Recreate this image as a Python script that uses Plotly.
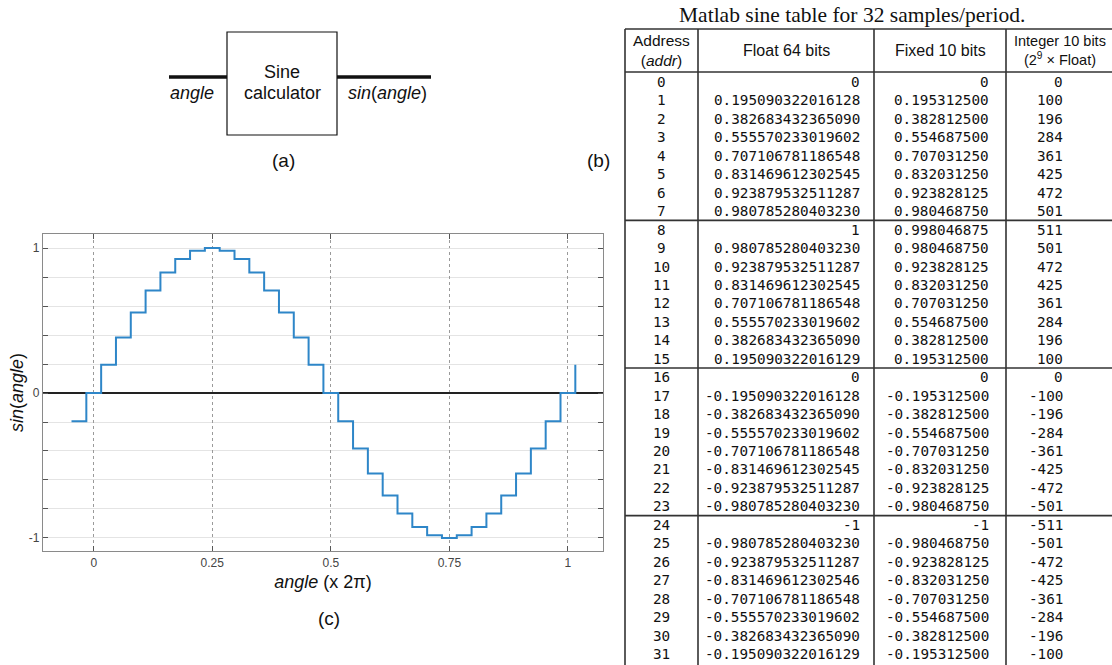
import plotly.graph_objects as go

W, H = 1112, 665

# ---------------- data ----------------
addresses = list(range(32))
float64_txt = [
    "0", "0.195090322016128", "0.382683432365090", "0.555570233019602",
    "0.707106781186548", "0.831469612302545", "0.923879532511287", "0.980785280403230",
    "1", "0.980785280403230", "0.923879532511287", "0.831469612302545",
    "0.707106781186548", "0.555570233019602", "0.382683432365090", "0.195090322016129",
    "0", "-0.195090322016128", "-0.382683432365090", "-0.555570233019602",
    "-0.707106781186548", "-0.831469612302545", "-0.923879532511287", "-0.980785280403230",
    "-1", "-0.980785280403230", "-0.923879532511287", "-0.831469612302546",
    "-0.707106781186548", "-0.555570233019602", "-0.382683432365090", "-0.195090322016129",
]
fixed10_txt = [
    "0", "0.195312500", "0.382812500", "0.554687500", "0.707031250", "0.832031250",
    "0.923828125", "0.980468750",
    "0.998046875", "0.980468750", "0.923828125", "0.832031250", "0.707031250",
    "0.554687500", "0.382812500", "0.195312500",
    "0", "-0.195312500", "-0.382812500", "-0.554687500", "-0.707031250", "-0.832031250",
    "-0.923828125", "-0.980468750",
    "-1", "-0.980468750", "-0.923828125", "-0.832031250", "-0.707031250",
    "-0.554687500", "-0.382812500", "-0.195312500",
]
int10 = [0, 100, 196, 284, 361, 425, 472, 501,
         511, 501, 472, 425, 361, 284, 196, 100,
         0, -100, -196, -284, -361, -425, -472, -501,
         -511, -501, -472, -425, -361, -284, -196, -100]

headers = ["Address<br>(<i>addr</i>)", "Float 64 bits", "Fixed 10 bits",
           "Integer 10 bits<br>(2<sup>9</sup> × Float)"]
title_b = "Matlab sine table for 32 samples/period."

x_ticks = [0, 0.25, 0.5, 0.75, 1]
x_ticktext = ["0", "0.25", "0.5", "0.75", "1"]
y_ticks = [-1, 0, 1]
y_ticktext = ["-1", "0", "1"]
y_minor = [-0.8, -0.6, -0.4, -0.2, 0.2, 0.4, 0.6, 0.8]

# ---------------- helpers (pixel -> paper) ----------------
def px(x):
    return x / W

def py(y):
    return 1 - y / H

fig = go.Figure()
shapes = []
ann = []

SANS = "Liberation Sans, Arial, sans-serif"
MONO = "DejaVu Sans Mono, monospace"

# ---------------- (c) stair plot ----------------
seq = [-1] + addresses + [32, 33]
xs = [(i - 0.5) / 32 for i in seq]
ys = [float(float64_txt[i % 32]) for i in seq]
fig.add_trace(go.Scatter(x=xs, y=ys, mode="lines", line=dict(color="#2e86c8", width=2, shape="hv"),
                         showlegend=False, hoverinfo="skip", xaxis="x", yaxis="y"))

ax_l, ax_r, ax_t, ax_b = 43, 603, 234, 551
fig.update_layout(
    xaxis=dict(domain=[px(ax_l), px(ax_r)], range=[-0.107, 1.074], tickvals=x_ticks, ticktext=x_ticktext,
               showgrid=True, gridcolor="#9a9a9a", griddash="dot", gridwidth=1,
               zeroline=False, showline=True, linecolor="#8a8a8a", linewidth=1.2, mirror="ticks",
               ticks="inside", ticklen=5, tickcolor="#555", tickfont=dict(family=SANS, size=12, color="#444"),
               title=dict(text="<i>angle</i> (x 2π)", font=dict(family=SANS, size=18, color="#111"), standoff=6),
               anchor="y", fixedrange=True),
    yaxis=dict(domain=[py(ax_b), py(ax_t)], range=[-1.09, 1.097], tickvals=y_ticks, ticktext=y_ticktext,
               showgrid=True, gridcolor="#e4e4e4", gridwidth=1,
               minor=dict(tickvals=y_minor, showgrid=True, gridcolor="#e4e4e4", gridwidth=1,
                          ticks="inside", ticklen=5, tickcolor="#555"),
               zeroline=True, zerolinecolor="#222", zerolinewidth=1.5,
               showline=True, linecolor="#8a8a8a", linewidth=1.2, mirror="ticks",
               ticks="inside", ticklen=5, tickcolor="#555", tickfont=dict(family=SANS, size=12, color="#444"),
               anchor="x", fixedrange=True),
)

# ---------------- (a) block diagram ----------------
shapes.append(dict(type="rect", xref="paper", yref="paper", x0=px(227), x1=px(337), y0=py(135), y1=py(32),
                   line=dict(color="#111", width=1.2)))
shapes.append(dict(type="line", xref="paper", yref="paper", x0=px(169), x1=px(227), y0=py(77), y1=py(77),
                   line=dict(color="#111", width=3.5)))
shapes.append(dict(type="line", xref="paper", yref="paper", x0=px(337), x1=px(431), y0=py(77), y1=py(77),
                   line=dict(color="#111", width=3.5)))

def text(x, y, s, size=16, family=SANS, xanchor="center", color="#111", angle=0):
    ann.append(dict(x=px(x), y=py(y), xref="paper", yref="paper", text=s, showarrow=False, textangle=angle,
                    xanchor=xanchor, yanchor="middle", font=dict(family=family, size=size, color=color)))

text(282, 72, "Sine", 18)
text(282, 93, "calculator", 18)
text(192, 93, "<i>angle</i>", 18)
text(387, 93, "<i>sin</i>(<i>angle</i>)", 18)
text(283, 160, "(a)", 19)
text(598, 160, "(b)", 19)
text(329, 618, "(c)", 19)
text(17, 393, "<i>sin</i>(<i>angle</i>)", 18, angle=-90)

# ---------------- (b) table ----------------
text(852, 15, title_b, 21.5, family="Liberation Serif, Times New Roman, serif")
tab_l, tab_r, tab_t = 625, 1118, 29
col_div = [698, 874, 1006]
hdr_b = 72
row0, drow = 82, 18.45
sep = [hdr_b] + [row0 + drow * (8 * g - 0.5) for g in (1, 2, 3)]
LC = "#333"
shapes.append(dict(type="line", xref="paper", yref="paper", x0=px(tab_l), x1=px(tab_r), y0=py(tab_t), y1=py(tab_t),
                   line=dict(color=LC, width=1.6)))
for s in sep:
    shapes.append(dict(type="line", xref="paper", yref="paper", x0=px(tab_l), x1=px(tab_r), y0=py(s), y1=py(s),
                       line=dict(color=LC, width=1.6)))
for cx in [tab_l] + col_div:
    shapes.append(dict(type="line", xref="paper", yref="paper", x0=px(cx), x1=px(cx), y0=py(tab_t), y1=py(H + 5),
                       line=dict(color=LC, width=1.6)))

hdr_x = [661.5, 786, 940, 1060]
hdr_size = [15.5, 16, 16, 14.5]
for hx, h, hs in zip(hdr_x, headers, hdr_size):
    text(hx, 51, h, hs)

for k in addresses:
    y = row0 + drow * k
    text(661.5, y, str(k), 14.3, family=MONO)
    text(862, y, float64_txt[k], 14.3, family=MONO, xanchor="right")
    text(991, y, fixed10_txt[k], 14.3, family=MONO, xanchor="right")
    text(1065, y, str(int10[k]), 14.3, family=MONO, xanchor="right")

fig.update_layout(width=W, height=H, margin=dict(l=0, r=0, t=0, b=0), paper_bgcolor="white",
                  plot_bgcolor="white", shapes=shapes, annotations=ann, showlegend=False)

fig.write_html("out.html", config={"displayModeBar": False},
               post_script="document.body.style.margin='0';document.body.style.padding='0';"
                           "document.body.style.overflow='hidden';")
